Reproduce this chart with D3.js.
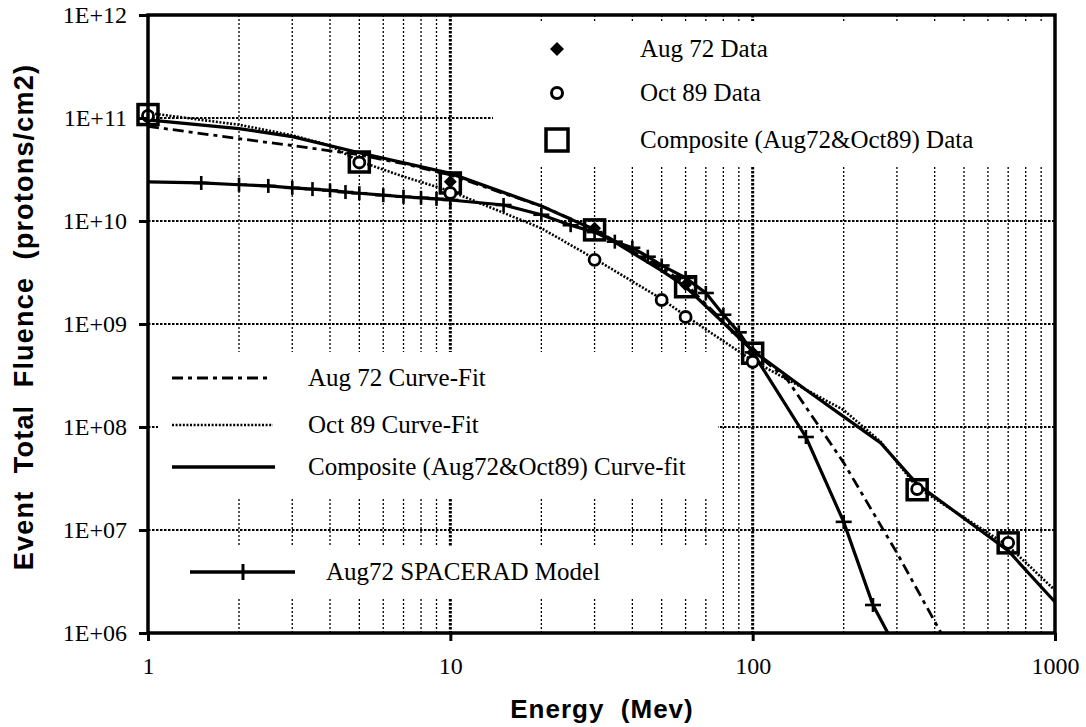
<!DOCTYPE html>
<html><head><meta charset="utf-8">
<script src="https://cdn.jsdelivr.net/npm/d3@7"></script>
<style>
html,body{margin:0;padding:0;background:#fff;}
svg{display:block;}
</style></head>
<body>
<svg id="chart" width="1086" height="727"></svg>
<script>
// ---------------- data ----------------
const xTickValues = [1, 10, 100, 1000];
const xTickLabels = ["1", "10", "100", "1000"];
const yTickValues = [1e6, 1e7, 1e8, 1e9, 1e10, 1e11, 1e12];
const yTickLabels = ["1E+06", "1E+07", "1E+08", "1E+09", "1E+10", "1E+11", "1E+12"];

const aug72DataE = [1, 10, 30, 60, 100];
const aug72DataF = [1.0e11, 2.4e10, 8.5e9, 2.4e9, 5.3e8];

const oct89DataE = [1, 5, 10, 30, 50, 60, 100, 350, 700];
const oct89DataF = [1.05e11, 3.7e10, 1.87e10, 4.2e9, 1.71e9, 1.17e9, 4.3e8, 2.5e7, 7.5e6];

const compDataE = [1, 5, 10, 30, 60, 100, 350, 700];
const compDataF = [1.08e11, 3.74e10, 2.34e10, 8.2e9, 2.3e9, 5.2e8, 2.46e7, 7.5e6];

const aug72FitE = [1, 2, 3, 5, 7, 10, 15, 20, 30, 50, 60, 100, 130, 200, 300, 420];
const aug72FitF = [8.3e10, 6.3e10, 5.4e10, 4.4e10, 3.6e10, 2.8e10, 1.85e10, 1.4e10, 8.3e9, 3.5e9, 2.45e9, 5.5e8, 2.9e8, 4.5e7, 6.0e6, 1.0e6];

const oct89FitE = [1, 2, 3, 4, 5, 7, 10, 20, 30, 50, 60, 100, 200, 265, 350, 700, 1000];
const oct89FitF = [1.12e11, 8.6e10, 6.8e10, 5.4e10, 3.8e10, 2.7e10, 1.95e10, 8.5e9, 4.3e9, 1.75e9, 1.2e9, 4.4e8, 1.46e8, 7.2e7, 2.6e7, 7.0e6, 2.6e6];

const compFitE = [1, 2, 3, 5, 10, 20, 30, 50, 60, 100, 150, 200, 265, 350, 700, 1000];
const compFitF = [9.6e10, 7.9e10, 6.6e10, 4.6e10, 2.9e10, 1.4e10, 8.2e9, 3.3e9, 2.3e9, 5.5e8, 2.3e8, 1.26e8, 7.0e7, 2.8e7, 6.3e6, 2.0e6];

const spaceradE = [1, 1.5, 2, 2.5, 3, 3.5, 4, 4.5, 5, 6, 7, 8, 9, 10, 15, 20, 25, 30, 35, 40, 45, 50, 60, 70, 80, 90, 100, 150, 200, 250, 280];
const spaceradF = [2.4e10, 2.34e10, 2.25e10, 2.19e10, 2.1e10, 2.04e10, 1.98e10, 1.91e10, 1.86e10, 1.78e10, 1.72e10, 1.68e10, 1.64e10, 1.6e10, 1.43e10, 1.15e10, 9.1e9, 7.8e9, 6.3e9, 5.5e9, 4.5e9, 3.7e9, 2.8e9, 2.0e9, 1.23e9, 8.3e8, 5.3e8, 8.0e7, 1.2e7, 1.87e6, 1.0e6];
const spaceradCrossE = [1.5, 2, 2.5, 3, 3.5, 4, 4.5, 5, 6, 7, 8, 9, 10, 15, 20, 25, 30, 35, 40, 45, 50, 60, 70, 80, 90, 100, 150, 200, 250];

const topLegendLabels = ["Aug 72 Data", "Oct 89 Data", "Composite (Aug72&Oct89) Data"];
const lowLegendLabels = ["Aug 72 Curve-Fit", "Oct 89 Curve-Fit", "Composite (Aug72&Oct89) Curve-fit", "Aug72 SPACERAD Model"];
const xTitle = "Energy  (Mev)";
const yTitle = "Event  Total  Fluence  (protons/cm2)";

// ---------------- layout ----------------
const L = 148, R = 1055, T = 15, B = 633;
const serif = "'Liberation Serif','Times New Roman',serif";
const sans = "'Liberation Sans',Arial,sans-serif";

const svg = d3.select("#chart");
const x = d3.scaleLog().domain([1, 1000]).range([L, R]);
const y = d3.scaleLog().domain([1e6, 1e12]).range([B, T]);

const zip = (E, F) => E.map((e, i) => [e, F[i]]);

// ---------------- grid ----------------
const grid = svg.append("g");
const minorX = [];
[1, 10, 100].forEach(d => { for (let k = 2; k <= 9; k++) minorX.push(d * k); });
grid.selectAll(".vmin").data(minorX).join("line")
  .attr("x1", d => x(d)).attr("x2", d => x(d)).attr("y1", T).attr("y2", B)
  .attr("stroke", "#000").attr("stroke-width", 1.3).attr("stroke-dasharray", "2,2");
grid.selectAll(".vmaj").data([10, 100]).join("line")
  .attr("x1", d => x(d)).attr("x2", d => x(d)).attr("y1", T).attr("y2", B)
  .attr("stroke", "#000").attr("stroke-width", 3).attr("stroke-dasharray", "2.5,1.5");
grid.selectAll(".h").data([1e7, 1e8, 1e9, 1e10]).join("line")
  .attr("x1", L).attr("x2", R).attr("y1", d => y(d)).attr("y2", d => y(d))
  .attr("stroke", "#000").attr("stroke-width", 2.2).attr("stroke-dasharray", "2.5,1.5");
grid.append("line").attr("x1", L).attr("x2", 493).attr("y1", y(1e11)).attr("y2", y(1e11))
  .attr("stroke", "#000").attr("stroke-width", 2.2).attr("stroke-dasharray", "2.5,1.5");

// legend backgrounds hiding grid
const bg = svg.append("g").attr("fill", "#fff");
bg.append("rect").attr("x", 493).attr("y", 21).attr("width", R - 493).attr("height", 146);
bg.append("rect").attr("x", 158).attr("y", 352).attr("width", 560).attr("height", 146);
bg.append("rect").attr("x", 158).attr("y", 546).attr("width", 558).attr("height", 52);

// ---------------- curves ----------------
const line = d3.line().x(d => x(d[0])).y(d => y(d[1]));
const curves = svg.append("g").attr("fill", "none").attr("stroke", "#000");
curves.append("path").attr("d", line(zip(aug72FitE, aug72FitF)))
  .attr("stroke-width", 2.8).attr("stroke-dasharray", "11,5,4,5");
curves.append("path").attr("d", line(zip(oct89FitE, oct89FitF)))
  .attr("stroke-width", 2.6).attr("stroke-dasharray", "2,1.6");
curves.append("path").attr("d", line(zip(compFitE, compFitF)))
  .attr("stroke-width", 3.2);
const sr = zip(spaceradE, spaceradF);
curves.append("path").attr("d", line(sr)).attr("stroke-width", 3.2);
const crossData = sr.filter(d => spaceradCrossE.includes(d[0]));
const crosses = svg.append("g").attr("stroke", "#000").attr("stroke-width", 2.6);
crosses.selectAll("line.cv").data(crossData).join("line")
  .attr("x1", d => x(d[0])).attr("x2", d => x(d[0]))
  .attr("y1", d => y(d[1]) - 7).attr("y2", d => y(d[1]) + 7);
crosses.selectAll("line.ch").data(crossData).join("line")
  .attr("x1", d => x(d[0]) - 8).attr("x2", d => x(d[0]) + 8)
  .attr("y1", d => y(d[1])).attr("y2", d => y(d[1]));

// ---------------- markers ----------------
const mk = svg.append("g");
const diamond = (cx, cy, s) => `M${cx},${cy - s}L${cx + s},${cy}L${cx},${cy + s}L${cx - s},${cy}Z`;
mk.selectAll("rect.sq").data(zip(compDataE, compDataF)).join("rect")
  .attr("x", d => x(d[0]) - 10).attr("y", d => y(d[1]) - 10)
  .attr("width", 20).attr("height", 20)
  .attr("fill", "none").attr("stroke", "#000").attr("stroke-width", 3.5);
mk.selectAll("path.dm").data(zip(aug72DataE, aug72DataF)).join("path")
  .attr("d", d => diamond(x(d[0]), y(d[1]), 6.5)).attr("fill", "#000");
mk.selectAll("circle.ci").data(zip(oct89DataE, oct89DataF)).join("circle")
  .attr("cx", d => x(d[0])).attr("cy", d => y(d[1])).attr("r", 5.5)
  .attr("fill", "#fff").attr("stroke", "#000").attr("stroke-width", 2.8);

// ---------------- frame & axes ----------------
svg.append("rect").attr("x", L).attr("y", T).attr("width", R - L).attr("height", B - T)
  .attr("fill", "none").attr("stroke", "#000").attr("stroke-width", 3.5);

const yAxis = d3.axisLeft(y).tickValues(yTickValues)
  .tickFormat((d, i) => yTickLabels[i]).tickSize(9).tickPadding(12);
const gy = svg.append("g").attr("transform", `translate(${L},0)`).call(yAxis);
gy.select(".domain").remove();
gy.selectAll(".tick line").attr("stroke-width", 3);
gy.selectAll(".tick text").attr("font-family", serif).attr("font-size", 24).attr("fill", "#000");

const xAxis = d3.axisBottom(x).tickValues(xTickValues)
  .tickFormat((d, i) => xTickLabels[i]).tickSize(8).tickPadding(16);
const gx = svg.append("g").attr("transform", `translate(0,${B})`).call(xAxis);
gx.select(".domain").remove();
gx.selectAll(".tick line").attr("stroke-width", 3);
gx.selectAll(".tick text").attr("font-family", serif).attr("font-size", 24).attr("fill", "#000");

// titles
svg.append("text").attr("x", 602).attr("y", 718).attr("text-anchor", "middle")
  .attr("font-family", sans).attr("font-weight", "bold").attr("font-size", 26)
  .attr("letter-spacing", 1).style("white-space", "pre").text(xTitle);
svg.append("text").attr("transform", "translate(33,317) rotate(-90)").attr("text-anchor", "middle")
  .attr("font-family", sans).attr("font-weight", "bold").attr("font-size", 27)
  .attr("letter-spacing", 1.2).style("white-space", "pre").text(yTitle);

// ---------------- legends ----------------
const lg = svg.append("g");
const topY = [49, 93, 140];
lg.append("path").attr("d", diamond(557, topY[0], 7)).attr("fill", "#000");
lg.append("circle").attr("cx", 557).attr("cy", topY[1]).attr("r", 5.5)
  .attr("fill", "#fff").attr("stroke", "#000").attr("stroke-width", 3);
lg.append("rect").attr("x", 546).attr("y", topY[2] - 11).attr("width", 22).attr("height", 22)
  .attr("fill", "none").attr("stroke", "#000").attr("stroke-width", 3.5);
lg.selectAll("text.tl").data(topLegendLabels).join("text")
  .attr("x", 640).attr("y", (d, i) => topY[i] + 8)
  .attr("font-family", serif).attr("font-size", 25).text(d => d);

const lowY = [378, 425, 467, 572];
lg.append("line").attr("x1", 172).attr("x2", 272).attr("y1", lowY[0]).attr("y2", lowY[0])
  .attr("stroke", "#000").attr("stroke-width", 2.8).attr("stroke-dasharray", "11,5,4,5");
lg.append("line").attr("x1", 172).attr("x2", 273).attr("y1", lowY[1]).attr("y2", lowY[1])
  .attr("stroke", "#000").attr("stroke-width", 2.6).attr("stroke-dasharray", "2,1.6");
lg.append("line").attr("x1", 172).attr("x2", 275).attr("y1", lowY[2]).attr("y2", lowY[2])
  .attr("stroke", "#000").attr("stroke-width", 3.4);
lg.append("line").attr("x1", 190).attr("x2", 295).attr("y1", lowY[3]).attr("y2", lowY[3])
  .attr("stroke", "#000").attr("stroke-width", 3.4);
lg.append("line").attr("x1", 243).attr("x2", 243).attr("y1", lowY[3] - 8).attr("y2", lowY[3] + 8)
  .attr("stroke", "#000").attr("stroke-width", 3);
const lowX = [308, 308, 308, 326];
lg.selectAll("text.ll").data(lowLegendLabels).join("text")
  .attr("x", (d, i) => lowX[i]).attr("y", (d, i) => lowY[i] + 8)
  .attr("font-family", serif).attr("font-size", 25).text(d => d);
</script>
</body></html>
